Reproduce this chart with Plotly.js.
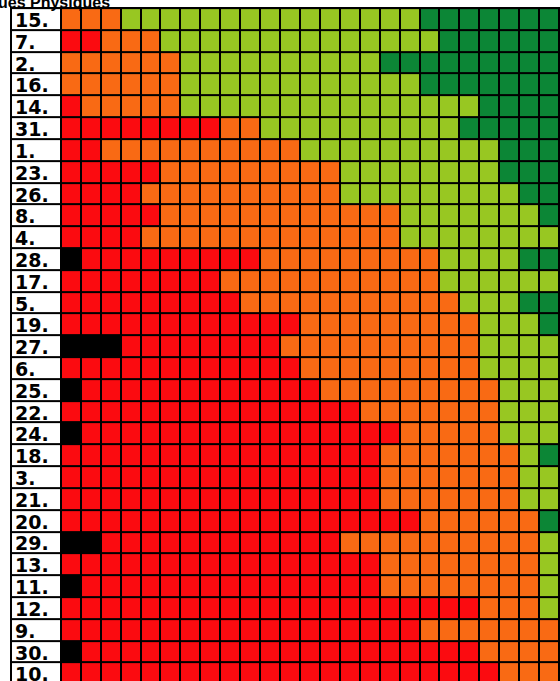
<!DOCTYPE html>
<html>
<head>
<meta charset="utf-8">
<script src="https://cdn.plot.ly/plotly-3.0.1.min.js"></script>
<style>html,body{margin:0;padding:0;background:#fff;}#chart{width:560px;height:681px;}</style>
</head>
<body>
<div id="chart"></div>
<script>
// Row labels, top to bottom
const rowLabels = ["15.","7.","2.","16.","14.","31.","1.","23.","26.","8.","4.","28.","17.","5.","19.","27.","6.","25.","22.","24.","18.","3.","21.","20.","29.","13.","11.","12.","9.","30.","10."];
// Number of cells of each colour per row (left to right: black, red, orange, light green, dark green)
const blackCount      = [0,0,0,0,0,0,0,0,0,0,0,1,0,0,0,3,0,1,0,1,0,0,0,0,2,0,1,0,0,1,0];
const redCount        = [0,2,0,0,1,8,2,5,4,5,4,9,8,9,12,8,12,12,15,16,16,16,16,18,12,16,15,21,18,20,22];
const orangeCount     = [3,3,6,6,5,2,10,9,10,12,13,9,11,11,9,10,9,9,7,5,7,7,7,6,10,8,8,3,7,4,3];
const lightGreenCount = [15,14,10,12,15,10,10,8,9,7,8,4,6,3,3,4,4,3,3,3,1,2,2,0,1,1,1,1,0,0,0];
const darkGreenCount  = [7,6,9,7,4,5,3,3,2,1,0,2,0,2,1,0,0,0,0,0,1,0,0,1,0,0,0,0,0,0,0];
const titleText = "ues Physiques";

const levelColors = ["#000000","#fb0b10","#f96a14","#98c722","#0c8636","#ffffff"]; // last = label column
const nCols = 25;

const counts = [blackCount, redCount, orangeCount, lightGreenCount, darkGreenCount];
const z = rowLabels.map((_, r) => {
  const row = [5];
  counts.forEach((arr, level) => { for (let k = 0; k < arr[r]; k++) row.push(level); });
  return row;
});
const xEdges = [-3];
for (let c = 0; c <= nCols; c++) xEdges.push(c - 0.5);
const yIdx = rowLabels.map((_, i) => i);

const cs = [];
levelColors.forEach((c, i) => {
  cs.push([i / levelColors.length, c]);
  cs.push([(i + 1) / levelColors.length, c]);
});

const trace = {
  type: "heatmap",
  z: z,
  x: xEdges,
  y: yIdx,
  zmin: -0.5,
  zmax: levelColors.length - 0.5,
  colorscale: cs,
  showscale: false,
  xgap: 2,
  ygap: 2,
  hoverinfo: "skip"
};

const annotations = rowLabels.map((t, i) => ({
  xref: "x", yref: "y", x: -2.92, y: i, text: t, showarrow: false,
  xanchor: "left", yanchor: "middle", yshift: -1,
  font: {family: "DejaVu Sans", size: 19, color: "#000", weight: "bold"}
}));
annotations.push({
  xref: "x", yref: "paper", x: 2.05, y: 1, text: "<b>" + titleText + "</b>", showarrow: false,
  xanchor: "right", yanchor: "bottom", yshift: -6,
  font: {family: "Liberation Sans", size: 16, color: "#000"}
});

const layout = {
  width: 560, height: 681,
  margin: {l: 10, r: 0, t: 7, b: 0, pad: 0},
  paper_bgcolor: "#ffffff",
  plot_bgcolor: "#000000",
  xaxis: {range: [-3.05, 24.55], showticklabels: false, showgrid: false, zeroline: false, ticks: "", fixedrange: true},
  yaxis: {range: [30.35, -0.55], showticklabels: false, showgrid: false, zeroline: false, ticks: "", fixedrange: true},
  annotations: annotations,
  showlegend: false
};

Plotly.newPlot("chart", [trace], layout, {displayModeBar: false, staticPlot: true});
</script>
</body>
</html>
